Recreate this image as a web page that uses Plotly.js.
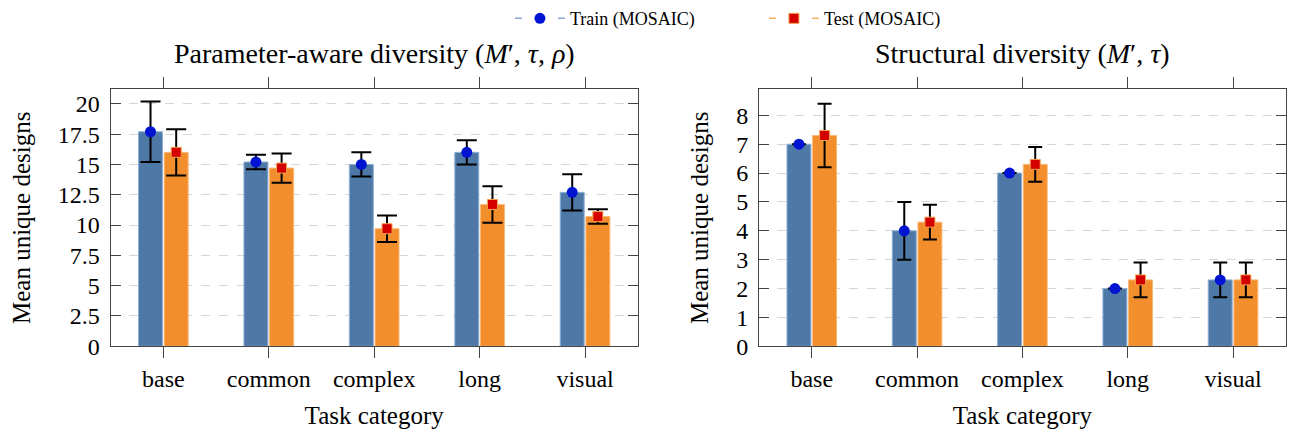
<!DOCTYPE html>
<html>
<head>
<meta charset="utf-8">
<script src="https://cdn.plot.ly/plotly-3.0.1.min.js"></script>
<style>html,body{margin:0;padding:0;background:#fff;}#chart{width:1291px;height:431px;}</style>
</head>
<body>
<div id="chart"></div>
<script>
const categories = ['base', 'common', 'complex', 'long', 'visual'];

// Parameter-aware diversity (M', tau, rho)
const paramTrain    = [17.7, 15.2, 15.0, 16.0, 12.7];
const paramTrainErr = [2.5, 0.6, 1.0, 1.0, 1.5];
const paramTest     = [16.0, 14.7, 9.7, 11.7, 10.7];
const paramTestErr  = [1.9, 1.2, 1.1, 1.5, 0.6];

// Structural diversity (M', tau)
const structTrain    = [7.0, 4.0, 6.0, 2.0, 2.3];
const structTrainErr = [0.0, 1.0, 0.0, 0.0, 0.6];
const structTest     = [7.3, 4.3, 6.3, 2.3, 2.3];
const structTestErr  = [1.1, 0.6, 0.6, 0.6, 0.6];

const seriesNames = ['Train (MOSAIC)', 'Test (MOSAIC)'];

const BLUE = '#4e79a7', ORANGE = '#f28e2b';
const FONT = 'Liberation Serif, Times New Roman, serif';

function bar(x, y, color, edge, group, xa, ya) {
  return {type: 'bar', x: x, y: y, xaxis: xa, yaxis: ya, offsetgroup: group,
    marker: {color: color, line: {color: edge, width: 1}}, showlegend: false, hoverinfo: 'skip'};
}
function pts(x, y, err, group, xa, ya, capw, isTrain) {
  return {type: 'scatter', mode: 'markers', x: x, y: y, xaxis: xa, yaxis: ya, offsetgroup: group,
    error_y: {type: 'data', array: err, visible: true, color: '#000', thickness: 2, width: capw},
    marker: isTrain ? {symbol: 'circle', size: 11, color: '#0014d2', line: {width: 0}}
                    : {symbol: 'square', size: 10, color: '#d40000', line: {color: '#f7a04a', width: 1}},
    showlegend: false, hoverinfo: 'skip'};
}

const traces = [
  bar(categories, paramTrain, BLUE, '#8fb0d6', 'train', 'x', 'y'),
  bar(categories, paramTest, ORANGE, '#f9b878', 'test', 'x', 'y'),
  pts(categories, paramTrain, paramTrainErr, 'train', 'x', 'y', 10, true),
  pts(categories, paramTest, paramTestErr, 'test', 'x', 'y', 10, false),
  bar(categories, structTrain, BLUE, '#8fb0d6', 'train', 'x2', 'y2'),
  bar(categories, structTest, ORANGE, '#f9b878', 'test', 'x2', 'y2'),
  pts(categories, structTrain, structTrainErr, 'train', 'x2', 'y2', 7, true),
  pts(categories, structTest, structTestErr, 'test', 'x2', 'y2', 7, false),
  // legend entries
  {type: 'scatter', mode: 'lines+markers', x: [null], y: [null], xaxis: 'x', yaxis: 'y', offsetgroup: 'train',
   name: seriesNames[0], line: {color: '#8aa8cf', width: 1.5, dash: '7px,36px,7px,100px'},
   marker: {symbol: 'circle', size: 11, color: '#0014d2'}, hoverinfo: 'skip'},
  {type: 'scatter', mode: 'lines+markers', x: [null], y: [null], xaxis: 'x', yaxis: 'y', offsetgroup: 'test',
   name: seriesNames[1], line: {color: '#f7b068', width: 1.5, dash: '7px,36px,7px,100px'},
   marker: {symbol: 'square', size: 10, color: '#d40000', line: {color: '#f7a04a', width: 1}}, hoverinfo: 'skip'}
];

const xCommon = {
  type: 'category', range: [-0.5, 4.5], showline: true, mirror: 'ticks', linecolor: '#444', linewidth: 1,
  ticks: 'outside', ticklen: 11, tickcolor: '#444', tickwidth: 1, showgrid: false, zeroline: false,
  tickfont: {family: FONT, size: 24, color: '#000'}, automargin: false,
  title: {text: 'Task category', font: {family: FONT, size: 25, color: '#000'}, standoff: 15}
};
const yCommon = {
  showline: true, mirror: 'ticks', linecolor: '#444', linewidth: 1,
  ticks: 'inside', ticklen: 10, tickcolor: '#444', tickwidth: 1, ticklabelstandoff: 5,
  showgrid: true, gridcolor: '#d6d6d6', griddash: 'dash', gridwidth: 1, zeroline: false,
  tickfont: {family: FONT, size: 24, color: '#000'}, automargin: false,
  title: {text: 'Mean unique designs', font: {family: FONT, size: 25, color: '#000'}, standoff: 20}
};

const layout = {
  width: 1291, height: 431,
  margin: {l: 0, r: 0, t: 0, b: 0},
  paper_bgcolor: '#fff', plot_bgcolor: '#fff',
  barmode: 'group', bargap: 0.513, bargroupgap: 0.066,
  scattermode: 'group', scattergap: 0.513,
  font: {family: FONT, color: '#000'},
  xaxis: Object.assign({}, xCommon, {domain: [0.0857, 0.494], anchor: 'y'}),
  yaxis: Object.assign({}, yCommon, {domain: [0.2007, 0.8097], range: [0, 21.2], dtick: 2.5, anchor: 'x'}),
  xaxis2: Object.assign({}, xCommon, {domain: [0.588, 0.9959], anchor: 'y2'}),
  yaxis2: Object.assign({}, yCommon, {domain: [0.2007, 0.8097], range: [0, 8.9], dtick: 1, anchor: 'x2'}),
  showlegend: true,
  legend: {orientation: 'h', x: 0.395, xanchor: 'left', y: 1.021, yanchor: 'top',
    font: {family: FONT, size: 18, color: '#000'}, entrywidth: 189, entrywidthmode: 'pixels',
    itemwidth: 50, bgcolor: 'rgba(0,0,0,0)', borderwidth: 0, tracegroupgap: 0},
  annotations: [
    {xref: 'paper', yref: 'paper', x: (0.0857 + 0.494) / 2, y: 0.8956, xanchor: 'center', yanchor: 'middle',
     text: 'Parameter-aware diversity (<i>M</i>′, <i>τ</i>, <i>ρ</i>)', showarrow: false,
     font: {family: FONT, size: 28, color: '#000'}},
    {xref: 'paper', yref: 'paper', x: (0.588 + 0.9959) / 2, y: 0.8956, xanchor: 'center', yanchor: 'middle',
     text: 'Structural diversity (<i>M</i>′, <i>τ</i>)', showarrow: false,
     font: {family: FONT, size: 28, color: '#000'}}
  ]
};

Plotly.newPlot('chart', traces, layout, {displayModeBar: false, staticPlot: true});
</script>
</body>
</html>
